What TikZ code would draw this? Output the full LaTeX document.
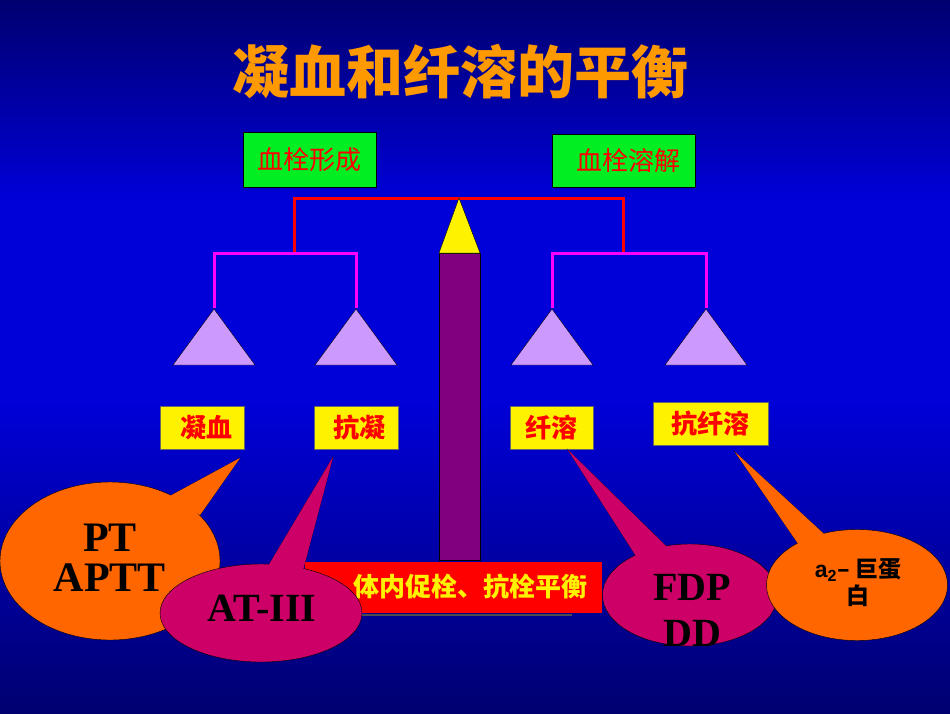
\documentclass[tikz,border=0pt]{standalone}
\usepackage{fontspec}
\newfontfamily\cjk{Noto Sans CJK SC}
\newfontfamily\tms{Liberation Serif}
\newfontfamily\ars{Liberation Sans}
\definecolor{bgdark}{HTML}{000070}
\definecolor{bgmid}{HTML}{0000D8}
\definecolor{ttl}{HTML}{FF9900}
\definecolor{gbox}{HTML}{00EE22}
\definecolor{mag}{HTML}{FF00FF}
\definecolor{lav}{HTML}{CC99FF}
\definecolor{pur}{HTML}{800080}
\definecolor{orng}{HTML}{FF6600}
\definecolor{rasp}{HTML}{CC0066}
\tikzset{
 gbx/.style={draw=black,fill=gbox,text=red,font=\cjk\fontsize{26}{28}\selectfont,inner sep=0pt},
 ybx/.style={draw=black!60,fill=yellow,text=red,font=\cjk\bfseries\fontsize{26}{28}\selectfont,inner sep=0pt},
 pan/.style={draw=black,fill=lav},
 bub/.style={draw=black,thin,ellipse},
}
\usetikzlibrary{shapes.geometric}
\begin{document}
\begin{tikzpicture}[x=1pt,y=-1pt]
\useasboundingbox (0,0) rectangle (950,713);
\shade[top color=bgdark,bottom color=bgmid,middle color=bgmid] (0,0) rectangle (950,400);
\shade[top color=bgmid,bottom color=bgdark] (0,400) rectangle (950,713);
\node[text=ttl,font=\cjk\bfseries\fontsize{57}{60}\selectfont] (title) at (460,72) {凝血和纤溶的平衡};
\node[gbx,minimum width=133pt,minimum height=55pt] (g1) at (309.5,159.5) {血栓形成};
\node[gbx,minimum width=143pt,minimum height=53pt] (g2) at (623.5,160.5) {\hspace{10pt}血栓溶解};
% beam
\coordinate (rl) at (294,253); \coordinate (rr) at (623,253);
\draw[red,line width=3pt] (rl) -- (294,198) -- (623,198) -- (rr);
\draw[mag,line width=3pt] (214,308) -- (214,253) -- (356,253) -- (356,308);
\draw[mag,line width=3pt] (552,308) -- (552,253) -- (706,253) -- (706,308);
% pencil
\node[draw=black,fill=pur,minimum width=41pt,minimum height=307pt,inner sep=0pt,anchor=north] (post) at (459.5,253) {};
\draw[fill=yellow,draw=black] (439,253) -- (459,198) -- (480,253) -- cycle;
% pans
\foreach \c/\n in {214/p1,356/p2,552/p3,706/p4}
 \draw[pan] (\c-41,365) -- (\c,309) -- (\c+41,365) -- cycle;
\node[ybx,minimum width=84pt,minimum height=43pt] (y1) at (202,427.5) {\hspace{8pt}凝血};
\node[ybx,minimum width=84pt,minimum height=43pt] (y2) at (356,427.5) {\hspace{6pt}抗凝};
\node[ybx,minimum width=83pt,minimum height=43pt] (y3) at (551.5,427.5) {纤溶};
\node[ybx,minimum width=115pt,minimum height=43pt] (y4) at (710.5,423.5) {抗纤溶};
% bottom red box
\draw[black!70,line width=1.5pt] (305,615) -- (572,615);
\node[fill=red,minimum width=297pt,minimum height=51pt,inner sep=0pt] (rb) at (453.5,587.5) {};
\begin{scope}
\clip (305,562) rectangle (602,613);
\node[text=yellow,font=\cjk\bfseries\fontsize{26}{28}\selectfont,anchor=west,inner sep=0pt] (rbt) at (353,587) {体内促栓、抗栓平衡};
\end{scope}
% bubbles
\fill[orng,draw=black] (168,497) -- (240,458) -- (200,515) -- cycle;
\node[bub,fill=orng,minimum width=220pt,minimum height=158pt] (b1) at (110,561) {};
\fill[orng] (168,497) -- (240,458) -- (200,515) -- cycle;
\node[font=\tms\bfseries\fontsize{42}{40}\selectfont,align=center] (b1t) at (110,558) {PT\\APTT};
\fill[rasp,draw=black] (267,568) -- (333,457) -- (303,570) -- cycle;
\node[bub,fill=rasp,minimum width=202pt,minimum height=98pt] (b2) at (261,613) {};
\fill[rasp] (267,568) -- (333,457) -- (303,570) -- cycle;
\node[font=\tms\bfseries\fontsize{40}{40}\selectfont] (b2t) at (262,608) {AT-III};
\fill[rasp,draw=black] (636,556) -- (568,450) -- (667,547) -- cycle;
\node[bub,fill=rasp,minimum width=175pt,minimum height=102pt] (b3) at (690,595) {};
\fill[rasp] (636,556) -- (568,450) -- (667,547) -- cycle;
\node[font=\tms\bfseries\fontsize{40}{46}\selectfont,align=center] (b3t) at (692,610) {FDP\\DD};
\fill[orng,draw=black] (799,545) -- (735,452) -- (824,534) -- cycle;
\node[bub,fill=orng,minimum width=181pt,minimum height=111pt] (b4) at (857,585) {};
\fill[orng] (799,545) -- (735,452) -- (824,534) -- cycle;
\node[font=\cjk\bfseries\fontsize{23}{27}\selectfont,align=center] (b4t) at (858,583) {{\ars\bfseries a\textsubscript{2}}– 巨蛋\\白};
\end{tikzpicture}
\end{document}
